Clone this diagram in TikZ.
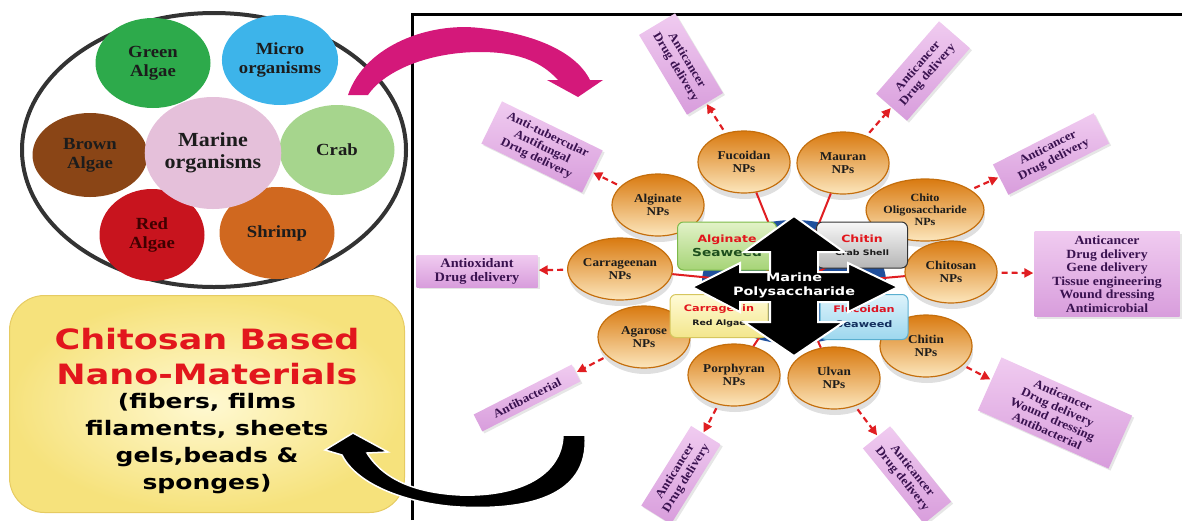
\documentclass[tikz,border=0pt]{standalone}
\usepackage{fontspec}
\setmainfont[FakeStretch=1.1]{Liberation Serif}
\newfontfamily\widesans[FakeStretch=1.25]{DejaVu Sans}
\usepackage{xcolor}
\usepackage{tikz}
\usetikzlibrary{calc}
\usetikzlibrary{shapes.geometric,arrows.meta}
\usetikzlibrary{shadows}

\definecolor{poolgray}{HTML}{333333}
\definecolor{algagreen}{HTML}{2DAA4B}
\definecolor{microblue}{HTML}{3DB4EA}
\definecolor{algabrown}{HTML}{8A4516}
\definecolor{marinepink}{HTML}{E5C0DA}
\definecolor{crabgreen}{HTML}{A6D58D}
\definecolor{algared}{HTML}{C8141E}
\definecolor{shrimporange}{HTML}{D0681F}
\definecolor{textdark}{HTML}{1C1C1C}
\definecolor{titlered}{HTML}{E2161D}
\definecolor{matin}{HTML}{FFF9D2}
\definecolor{matout}{HTML}{F6E27C}
\definecolor{matedge}{HTML}{E6CB62}
\definecolor{npmain}{HTML}{E98E1C}
\definecolor{nptop}{HTML}{D97A10}
\definecolor{nplight}{HTML}{FCE6BC}
\definecolor{npedge}{HTML}{C46E0C}
\definecolor{resa}{HTML}{F0CBF0}
\definecolor{resb}{HTML}{D89DDC}
\definecolor{restext}{HTML}{3A1250}
\definecolor{spokered}{HTML}{E01E22}
\definecolor{hubblue}{HTML}{1F4F9C}
\definecolor{arrowpink}{HTML}{D4187A}
\definecolor{algaelite}{HTML}{E2F2C8}
\definecolor{algaedeep}{HTML}{A6D477}
\definecolor{algaeedge}{HTML}{7DBA4A}
\definecolor{seatext}{HTML}{1D4F1D}
\definecolor{shelllite}{HTML}{F7F7F7}
\definecolor{shelldeep}{HTML}{B5B5B5}
\definecolor{redlite}{HTML}{FFFBD6}
\definecolor{reddeep}{HTML}{F3E68C}
\definecolor{rededge}{HTML}{D6C65E}
\definecolor{flulite}{HTML}{DDF3FB}
\definecolor{fludeep}{HTML}{9DD7EE}
\definecolor{fluedge}{HTML}{5AAFD0}

\begin{document}
\begin{tikzpicture}[x=1pt,y=-1pt,
    src/.style={ellipse, minimum width=115pt, minimum height=90pt, inner sep=0pt, align=center, text=textdark, font=\fontsize{17}{19}\selectfont\bfseries},
    nps/.style={ellipse, minimum width=92pt, minimum height=62pt, inner sep=0pt, align=center, top color=nptop, middle color=npmain, bottom color=nplight, draw=npedge, line width=1.2pt, text=textdark, font=\fontsize{12}{13}\selectfont\bfseries, drop shadow={opacity=0.25, shadow xshift=1pt, shadow yshift=-6pt}},
    polybox/.style={rectangle, rounded corners=6pt, line width=1pt, align=center, inner sep=2pt, font=\widesans\bfseries},
    resbox/.style={rectangle, top color=resa, bottom color=resb, align=center, inner sep=2pt, text=restext, font=\fontsize{12}{13}\selectfont\bfseries, drop shadow={opacity=0.2, shadow xshift=2pt, shadow yshift=-2pt}},
    spoke/.style={draw=spokered, line width=2pt},
    outarrow/.style={draw=spokered, line width=2.2pt, dash pattern=on 6pt off 4pt, -{Triangle[length=9pt,width=9pt]}, shorten <=4pt, shorten >=1pt}
]
    \useasboundingbox (0,0) rectangle (1182,520);
    %FRAME
    \coordinate (fa) at (412,520);
    \coordinate (fb) at (412,14);
    \coordinate (fc) at (1182,14);
    \draw[line width=3pt] (fa) -- (fb) -- (fc);

    %ORGANISMS
    \node[ellipse, draw=poolgray, line width=4pt, minimum width=384pt, minimum height=274pt] (pool) at (214,150) {};
    \node[src, fill=algagreen] (green) at (153,63) {Green\\Algae};
    \node[src, fill=microblue] (micro) at (280,60) {Micro\\organisms};
    \node[src, fill=algabrown, minimum height=84pt] (brown) at (90,155) {Brown\\Algae};
    \node[src, fill=crabgreen] (crab) at (337,150) {Crab};
    \node[src, fill=algared, minimum width=105pt, minimum height=92pt, text=black!75!red] (redalgae) at (152,235) {Red\\Algae};
    \node[src, fill=shrimporange, minimum height=92pt] (shrimp) at (277,233) {Shrimp};
    \node[src, fill=marinepink, minimum width=136pt, minimum height=112pt, font=\fontsize{20}{22}\selectfont\bfseries] (marine) at (213,153) {Marine\\organisms};

    %NANO MATERIALS
    \node[rectangle, rounded corners=35pt, inner color=matin, outer color=matout, draw=matedge, line width=1pt, minimum width=395pt, minimum height=217pt] (matbox) at (207,404) {};
    \node[align=center, text=titlered, font=\widesans\bfseries\fontsize{28}{35}\selectfont] (mattitle) at (207,357) {Chitosan Based\\Nano-Materials};
    \node[align=center, text=black, font=\widesans\bfseries\fontsize{20}{27}\selectfont] (matbody) at (207,444) {(fibers, films\\filaments, sheets\\gels,beads \&\\sponges)};

    %BIG ARROWS
    \fill[arrowpink] (348,95) .. controls (365,45) and (430,22) .. (480,28) .. controls (530,33) and (575,50) .. (590,80) -- (603,80) -- (578,97) -- (547,80) -- (558,80) .. controls (540,60) and (515,52) .. (480,52) .. controls (430,52) and (385,70) .. (368,95) -- cycle;
    \fill[black, draw=white, line width=1.5pt] (585,435) .. controls (590,500) and (520,510) .. (460,507) .. controls (420,505) and (360,490) .. (342,455) -- (325,450) -- (353,433) -- (388,452) -- (367,453) .. controls (385,482) and (420,493) .. (460,495) .. controls (520,497) and (562,475) .. (563,435) -- cycle;

    %NPS
    \coordinate (hub) at (794,286);
    \node[ellipse, fill=hubblue, minimum width=184pt, minimum height=124pt] (hubdisc) at (794,282) {};
    \node[nps] (fucoidan) at (744,162) {Fucoidan\\NPs};
    \node[nps] (mauran) at (843,163) {Mauran\\NPs};
    \node[nps] (alginate) at (658,205) {Alginate\\NPs};
    \node[nps, font=\fontsize{11}{12}\selectfont\bfseries] (chito) at (925,210) {Chito\\Oligosaccharide\\NPs};
    \node[nps] (carrageenan) at (620,269) {Carrageenan\\NPs};
    \node[nps] (chitosan) at (951,272) {Chitosan\\NPs};
    \node[nps] (agarose) at (644,337) {Agarose\\NPs};
    \node[nps] (chitin) at (926,346) {Chitin\\NPs};
    \node[nps] (porphyran) at (734,375) {Porphyran\\NPs};
    \node[nps] (ulvan) at (834,378) {Ulvan\\NPs};
    \foreach \np in {fucoidan,mauran,alginate,chito,carrageenan,chitosan,agarose,chitin,porphyran,ulvan}
        \draw[spoke] (hub) -- (\np);

    %POLYSACCHARIDES
    \node[polybox, top color=algaelite, bottom color=algaedeep, draw=algaeedge, minimum width=99pt, minimum height=48pt] (alginbox) at (727,246) {\textcolor{titlered}{\fontsize{10}{11}\selectfont Alginate}\\[2pt]\textcolor{seatext}{\fontsize{11}{12}\selectfont Seaweed}};
    \node[polybox, top color=shelllite, bottom color=shelldeep, draw=poolgray, minimum width=91pt, minimum height=46pt] (chitinbox) at (862,245) {\textcolor{titlered}{\fontsize{10}{11}\selectfont Chitin}\\[1pt]\textcolor{textdark}{\fontsize{7.5}{9}\selectfont Crab Shell}};
    \node[polybox, top color=redlite, bottom color=reddeep, draw=rededge, minimum width=98pt, minimum height=43pt] (carrabox) at (719,316) {\textcolor{titlered}{\fontsize{9}{10}\selectfont Carragenin}\\[2pt]\textcolor{textdark}{\fontsize{7.5}{9}\selectfont Red Algae}};
    \node[polybox, top color=flulite, bottom color=fludeep, draw=fluedge, minimum width=88pt, minimum height=45pt] (flubox) at (864,317) {\textcolor{titlered!85!purple}{\fontsize{9}{10}\selectfont Flucoidan}\\[3pt]\textcolor{hubblue!60!black}{\fontsize{9}{10}\selectfont Seaweed}};
    %CROSS ARROW
    \fill[black, draw=white, line width=2pt] (794,216) -- (844,252) -- (818,252) -- (818,272) -- (848,272) -- (848,263) -- (898,287) -- (848,312) -- (848,302) -- (818,302) -- (818,322) -- (844,322) -- (794,356) -- (744,322) -- (770,322) -- (770,302) -- (740,302) -- (740,312) -- (692,287) -- (740,263) -- (740,272) -- (770,272) -- (770,252) -- (744,252) -- cycle;
    \node[align=center, text=white, font=\widesans\bfseries\fontsize{11.5}{14}\selectfont] (hubtext) at (794,285) {Marine\\Polysaccharide};

    %APPLICATIONS
    \node[resbox, rotate=-59, minimum width=93pt, minimum height=42pt] (res1) at (681,64) {Anticancer\\Drug delivery};
    \node[resbox, rotate=49, minimum width=96pt, minimum height=41pt] (res2) at (923,71) {Anticancer\\Drug delivery};
    \node[resbox, rotate=27, minimum width=113pt, minimum height=34pt] (res3) at (1051,154) {Anticancer\\Drug delivery};
    \node[resbox, minimum width=145pt, minimum height=85pt, font=\fontsize{12.5}{13.5}\selectfont\bfseries] (res4) at (1107,274) {Anticancer\\Drug delivery\\Gene delivery\\Tissue engineering\\Wound dressing\\Antimicrobial};
    \node[resbox, rotate=-24, minimum width=143pt, minimum height=58pt] (res5) at (1055,413) {Anticancer\\Drug delivery\\Wound dressing\\Antibacterial};
    \node[resbox, rotate=-51, minimum width=97pt, minimum height=35pt] (res6) at (907,475) {Anticancer\\Drug delivery};
    \node[resbox, rotate=58, minimum width=94pt, minimum height=35pt] (res7) at (681,475) {Anticancer\\Drug delivery};
    \node[resbox, rotate=27, minimum width=110pt, minimum height=19pt] (res8) at (527,398) {Antibacterial};
    \node[resbox, minimum width=121pt, minimum height=32pt, font=\fontsize{13}{14}\selectfont\bfseries] (res9) at (477,271) {Antioxidant\\Drug delivery};
    \node[resbox, rotate=-26, minimum width=112pt, minimum height=47pt] (res10) at (542,147) {Anti-tubercular\\Antifungal\\Drug delivery};

    %DASHED ARROWS
    \draw[outarrow] (fucoidan) -- (res1);
    \draw[outarrow] (mauran) -- (res2);
    \draw[outarrow] (chito) -- (res3);
    \draw[outarrow] (chitosan) -- (res4);
    \draw[outarrow] (chitin) -- (res5);
    \draw[outarrow] (ulvan) -- (res6);
    \draw[outarrow] (porphyran) -- (res7);
    \draw[outarrow] (agarose) -- (res8);
    \draw[outarrow] (carrageenan) -- (res9);
    \draw[outarrow] (alginate) -- (res10);
\end{tikzpicture}
\end{document}
